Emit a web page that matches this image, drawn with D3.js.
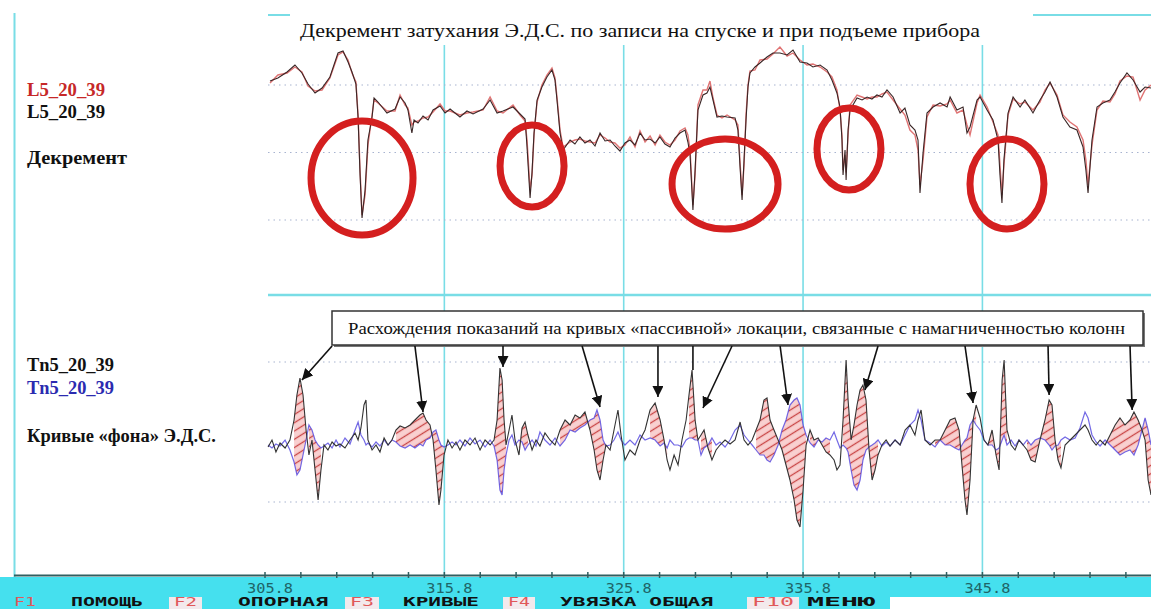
<!DOCTYPE html>
<html><head><meta charset="utf-8">
<script src="https://cdn.jsdelivr.net/npm/d3@7"></script>
<style>
html,body{margin:0;padding:0;background:#fff;}
svg{display:block;}
</style></head><body>
<svg id="chart" width="1151" height="609"></svg>
<script>
// ---- decrement of EMF damping: record on descent (black) and ascent (red) ----
const depthTop = [
306.08,306.52,307.03,307.47,307.86,308.20,308.59,308.98,309.42,309.87,
310.15,310.43,310.65,310.87,310.99,311.10,311.21,311.38,311.54,311.77,
311.88,312.10,312.60,313.05,313.33,313.61,313.77,313.99,314.11,314.33,
314.61,314.89,315.17,315.56,315.84,316.12,316.67,317.06,317.40,317.96,
318.35,318.74,319.07,319.63,320.02,320.30,320.41,320.58,320.69,320.80,
320.97,321.24,321.52,321.80,321.97,322.08,322.25,322.42,322.81,323.08,
323.36,323.64,323.92,324.20,324.48,324.76,325.04,325.31,325.59,325.87,
326.15,326.43,326.71,326.99,327.27,327.55,327.82,328.10,328.38,328.66,
328.94,329.22,329.38,329.50,329.66,329.78,329.94,330.22,330.44,330.61,
330.78,331.00,331.28,331.56,332.01,332.17,332.28,332.40,332.51,332.62,
332.73,332.84,333.12,333.40,333.79,334.12,334.51,334.91,335.24,335.63,
336.02,336.35,336.75,337.14,337.41,337.69,337.86,337.97,338.03,338.14,
338.20,338.31,338.42,338.81,339.09,339.37,339.64,339.92,340.20,340.48,
340.82,341.21,341.48,341.76,342.04,342.21,342.32,342.49,342.71,343.05,
343.44,343.83,344.00,344.38,344.72,344.94,345.11,345.50,345.67,346.06,
346.39,346.67,346.78,346.89,347.00,347.23,347.51,347.90,348.17,348.62,
349.01,349.29,349.57,349.96,350.29,350.68,351.07,351.41,351.57,351.69,
351.91,352.19,352.52,352.91,353.19,353.47,353.86,354.20,354.59,354.87,
355.20];
const decrDown = [
0.836,0.848,0.872,0.900,0.868,0.824,0.788,0.808,0.852,0.948,
0.956,0.912,0.872,0.824,0.688,0.460,0.288,0.400,0.600,0.692,
0.768,0.752,0.708,0.724,0.772,0.748,0.720,0.628,0.680,0.668,
0.696,0.680,0.720,0.736,0.708,0.724,0.692,0.716,0.704,0.724,
0.760,0.708,0.716,0.732,0.704,0.684,0.572,0.368,0.472,0.628,
0.760,0.812,0.852,0.880,0.840,0.760,0.628,0.560,0.600,0.584,
0.612,0.588,0.600,0.576,0.628,0.596,0.600,0.576,0.556,0.588,
0.600,0.580,0.628,0.600,0.604,0.588,0.612,0.584,0.572,0.608,
0.628,0.640,0.592,0.540,0.320,0.480,0.720,0.780,0.788,0.812,
0.760,0.692,0.696,0.692,0.688,0.640,0.500,0.360,0.520,0.680,
0.812,0.868,0.892,0.908,0.932,0.948,0.948,0.940,0.960,0.912,
0.908,0.892,0.900,0.880,0.840,0.788,0.732,0.600,0.460,0.560,
0.440,0.640,0.720,0.768,0.760,0.772,0.764,0.780,0.772,0.800,
0.772,0.708,0.728,0.660,0.640,0.600,0.388,0.548,0.708,0.732,
0.748,0.732,0.772,0.720,0.732,0.628,0.652,0.760,0.772,0.720,
0.680,0.600,0.460,0.348,0.520,0.708,0.772,0.732,0.760,0.708,
0.760,0.792,0.832,0.772,0.692,0.652,0.640,0.572,0.480,0.388,
0.600,0.732,0.748,0.760,0.792,0.828,0.868,0.840,0.792,0.812,
0.808];
const decrUp = [
0.828,0.860,0.868,0.892,0.872,0.816,0.796,0.800,0.848,0.940,
0.952,0.920,0.868,0.832,0.700,0.480,0.300,0.380,0.580,0.700,
0.760,0.748,0.716,0.716,0.780,0.740,0.728,0.660,0.672,0.676,
0.688,0.692,0.712,0.744,0.716,0.716,0.700,0.708,0.712,0.720,
0.772,0.716,0.708,0.740,0.700,0.676,0.600,0.400,0.460,0.620,
0.752,0.820,0.860,0.888,0.848,0.772,0.640,0.572,0.592,0.600,
0.604,0.596,0.592,0.588,0.620,0.608,0.592,0.588,0.568,0.580,
0.612,0.572,0.636,0.592,0.616,0.580,0.620,0.592,0.580,0.600,
0.636,0.648,0.620,0.560,0.340,0.460,0.740,0.800,0.800,0.836,
0.768,0.700,0.688,0.700,0.680,0.660,0.520,0.380,0.500,0.700,
0.820,0.876,0.880,0.920,0.924,0.944,0.972,0.936,0.948,0.920,
0.900,0.904,0.892,0.872,0.852,0.800,0.720,0.620,0.480,0.540,
0.470,0.620,0.740,0.780,0.772,0.764,0.772,0.772,0.784,0.792,
0.760,0.724,0.700,0.640,0.620,0.560,0.420,0.520,0.692,0.740,
0.736,0.744,0.760,0.708,0.720,0.660,0.620,0.748,0.780,0.732,
0.672,0.620,0.500,0.380,0.500,0.700,0.764,0.744,0.752,0.720,
0.752,0.800,0.828,0.780,0.700,0.672,0.652,0.600,0.520,0.420,
0.580,0.720,0.756,0.752,0.784,0.836,0.856,0.852,0.760,0.800,
0.820];

// ---- background EMF curves (mV): black and blue runs ----
const depthBot = [
305.97,306.19,306.41,306.64,306.92,307.19,307.42,307.58,307.75,307.92,
308.09,308.25,308.42,308.59,308.76,308.92,309.09,309.31,309.54,309.76,
309.98,310.26,310.54,310.82,310.99,311.15,311.32,311.43,311.54,311.77,
311.99,312.21,312.44,312.66,312.88,313.10,313.33,313.61,313.89,314.16,
314.44,314.61,314.78,315.00,315.17,315.33,315.50,315.61,315.78,316.00,
316.23,316.45,316.67,316.95,317.23,317.51,317.79,318.07,318.35,318.57,
318.74,318.90,319.02,319.13,319.24,319.41,319.57,319.74,319.96,320.13,
320.30,320.46,320.69,320.91,321.13,321.41,321.69,321.97,322.25,322.53,
322.81,323.09,323.36,323.64,323.92,324.15,324.31,324.48,324.65,324.81,
325.04,325.26,325.48,325.65,325.87,326.15,326.43,326.71,326.99,327.27,
327.55,327.83,328.05,328.22,328.38,328.61,328.83,329.05,329.28,329.44,
329.61,329.78,329.94,330.11,330.28,330.50,330.72,330.95,331.17,331.45,
331.73,332.01,332.29,332.51,332.73,332.96,333.18,333.40,333.62,333.79,
333.96,334.18,334.41,334.63,334.85,335.07,335.30,335.46,335.63,335.80,
335.97,336.19,336.41,336.64,336.86,337.08,337.30,337.53,337.69,337.86,
338.03,338.20,338.31,338.48,338.64,338.81,338.98,339.14,339.31,339.48,
339.65,339.81,339.98,340.20,340.43,340.65,340.93,341.21,341.49,341.76,
342.04,342.21,342.38,342.60,342.88,343.16,343.44,343.72,344.00,344.27,
344.50,344.66,344.83,344.94,345.11,345.28,345.45,345.67,345.89,346.11,
346.34,346.56,346.73,346.90,347.01,347.17,347.40,347.62,347.84,348.07,
348.29,348.51,348.74,349.01,349.29,349.52,349.68,349.85,350.02,350.18,
350.41,350.69,350.97,351.24,351.52,351.69,351.91,352.14,352.36,352.64,
352.92,353.20,353.47,353.75,354.03,354.25,354.48,354.70,354.87,355.04,
355.20];
const emfDown = [
-15,-8,-20,-11,-16,-8,12,37,54,37,
2,-23,-8,-38,-68,-38,-13,-18,-10,-14,
-12,-16,-8,-1,-8,4,27,32,-8,-18,
-13,-20,-6,-13,-8,2,6,4,7,12,
17,19,12,7,-8,-38,-73,-58,-23,-8,
-16,-10,-18,-8,-13,-6,-18,-8,-13,-8,
12,64,52,12,-13,2,17,-8,-23,4,
10,-3,-18,-8,-14,-1,-8,-13,2,12,
7,17,14,20,2,-18,-38,-48,-28,-13,
-18,2,22,-3,-28,-18,-23,-8,2,22,
29,12,-8,-28,-38,-23,-33,-8,12,37,
62,12,-8,-3,2,-16,-28,-18,-13,-8,
-12,-8,10,-8,-13,-8,2,12,32,34,
12,2,-8,-18,-33,-48,-68,-88,-95,-58,
-13,2,-8,-6,-13,-20,-23,-28,-38,-33,
12,72,32,-8,7,27,42,47,32,-18,
-48,-38,-23,-13,-8,-14,-8,-13,2,7,
-3,12,22,-8,-13,-8,-8,2,12,14,
2,-33,-68,-83,-48,12,27,14,-8,-13,
2,-23,-38,52,72,2,-13,-18,-8,-13,
-18,-28,-30,-8,12,32,27,-8,-28,-36,
-13,-8,-3,2,7,2,-8,-13,-8,-13,
-3,7,14,7,12,20,12,2,-8,-48,
-63];
const emfUp = [
-13,-16,-12,-14,-8,-18,-30,-43,-38,-23,
-8,7,2,-8,-13,-16,-14,-11,-16,-8,
-15,-6,-12,2,10,-3,-8,-13,-11,-15,
-10,-14,-8,-13,-8,-10,-14,-16,-13,-16,
-12,-14,-8,-6,0,2,-8,-13,-15,-13,
-10,-13,-8,-14,-6,-12,-8,-15,-8,-14,
-28,-58,-63,-38,-23,-8,-3,-13,-8,-10,
-18,-13,-8,-14,0,-8,-13,-6,-14,-8,
2,0,4,7,12,14,22,12,-8,-14,
-13,-8,0,-8,-13,-8,-13,-3,-8,-6,
-8,-14,-11,-16,-8,-13,-13,-15,-8,-6,
-6,-8,-8,-23,-16,-13,-6,-13,-10,-15,
-8,2,7,-3,-8,-13,-18,-23,-23,-28,
-30,-23,-13,2,12,27,32,34,27,7,
-3,-11,-15,-8,-10,-6,-8,0,-8,-16,
-13,-16,-20,-38,-53,-58,-48,-28,-18,-15,
-13,-11,-8,-14,-10,-14,-8,-13,-3,7,
12,22,12,-8,-11,-15,-8,-13,-13,-16,
-18,-13,-8,-6,7,12,7,2,-8,-13,
-13,-18,-16,-8,-3,-13,-8,-14,-8,-13,
-8,-13,-8,-6,-8,-13,-18,-14,-13,-8,
-5,-8,-6,4,20,14,-3,-10,-14,-8,
-13,-18,-23,-20,-18,-23,-13,2,14,2,
-13];

// depth intervals where the two runs disagree (hatched)
const divergeFrom = [307.31,308.25,313.10,318.57,319.96,322.25,327.16,329.33,330.11,333.01,336.19,338.03,343.05,346.06,348.29,352.53];
const divergeTo   = [308.20,309.04,315.89,319.35,320.58,324.81,328.27,329.94,330.84,336.08,337.41,339.98,345.50,347.34,350.24,355.20];

// circled decrement anomalies
const anomalyDepth = [311.21,320.69,331.45,338.36,347.17];
const anomalyDecr  = [0.448,0.496,0.424,0.564,0.424];

// callout leaders: start depth on the box, target depth / EMF
const arrowFrom  = [309.54,314.16,319.07,323.48,327.71,329.66,331.84,334.52,339.98,344.83,349.46,354.03];
const arrowDepth = [307.86,314.61,319.07,324.48,327.71,329.66,330.22,334.96,339.25,345.28,349.52,354.15];
const arrowEmf   = [52,20,65,25,35,62,24,27,42,29,37,22];
const arrowHead  = [1,1,1,1,1,0,1,1,1,1,1,1];

const depthTicks = [305.8,315.8,325.8,335.8,345.8];
const topGrid = [0.28,0.55,0.82];
const botGrid = [-70,70];

const menuKeys   = ["F1","F2","F3","F4","F10"];
const menuLabels = ["ПОМОЩЬ","ОПОРНАЯ","КРИВЫЕ","УВЯЗКА ОБЩАЯ","МЕНЮ"];

const titleText = "Декремент затухания Э.Д.С. по записи на спуске и при подъеме прибора";
const calloutText = "Расхождения показаний на кривых «пассивной» локации, связанные с намагниченностью колонн";

// ---------------- drawing ----------------
const W = 1151, H = 609;
const svg = d3.select("#chart");
const serif = "'Liberation Serif','Times New Roman',serif";
const mono = "'DejaVu Sans Mono',monospace";
const CYAN = "#45e0ee", GRID = "#79dde6";

const x = d3.scaleLinear().domain([305.8, 355.2]).range([265, 1151]);
const yTop = d3.scaleLinear().domain([0, 1]).range([290, 40]);
const yBot = d3.scaleLinear().domain([-140, 140]).range([572, 292]);

svg.append("rect").attr("width", W).attr("height", H).attr("fill", "#fff");

const defs = svg.append("defs");
defs.append("clipPath").attr("id", "clipTop").append("rect")
  .attr("x", 265).attr("y", 40).attr("width", W - 265).attr("height", 252);
defs.append("clipPath").attr("id", "clipBot").append("rect")
  .attr("x", 265).attr("y", 298).attr("width", W - 265).attr("height", 275);
const pat = defs.append("pattern").attr("id", "hatch")
  .attr("patternUnits", "userSpaceOnUse").attr("width", 8).attr("height", 7)
  .attr("patternTransform", "rotate(-32)");
pat.append("rect").attr("width", 8).attr("height", 7).attr("fill", "#f9d0d0");
pat.append("line").attr("x1", 0).attr("x2", 8).attr("y1", 3.5).attr("y2", 3.5)
  .attr("stroke", "#c94545").attr("stroke-width", 1.3);
defs.append("marker").attr("id", "arrowhead").attr("viewBox", "0 0 10 10")
  .attr("refX", 10).attr("refY", 5).attr("markerWidth", 11).attr("markerHeight", 11)
  .attr("markerUnits", "userSpaceOnUse").attr("orient", "auto")
  .append("path").attr("d", "M0,0 L10,5 L0,10 Z").attr("fill", "#111");

// frame lines
svg.append("line").attr("x1", 14.5).attr("x2", 14.5).attr("y1", 13).attr("y2", 577)
  .attr("stroke", GRID).attr("stroke-width", 2);
svg.append("line").attr("x1", 268).attr("x2", W).attr("y1", 15).attr("y2", 15)
  .attr("stroke", GRID).attr("stroke-width", 2);
svg.append("line").attr("x1", 268).attr("x2", W).attr("y1", 295).attr("y2", 295)
  .attr("stroke", GRID).attr("stroke-width", 2.5);

// vertical depth grid
svg.append("g").selectAll("line").data(depthTicks.slice(1)).join("line")
  .attr("x1", d => x(d)).attr("x2", d => x(d)).attr("y1", 45).attr("y2", 575)
  .attr("stroke", GRID).attr("stroke-width", 1.6);

// dotted level grid
svg.append("g").selectAll("line").data(topGrid).join("line")
  .attr("x1", 268).attr("x2", W).attr("y1", d => yTop(d)).attr("y2", d => yTop(d))
  .attr("stroke", "#a8b3d0").attr("stroke-width", 1.2).attr("stroke-dasharray", "1.5,4");
svg.append("g").selectAll("line").data(botGrid).join("line")
  .attr("x1", 268).attr("x2", W).attr("y1", d => yBot(d)).attr("y2", d => yBot(d))
  .attr("stroke", "#a8b3d0").attr("stroke-width", 1.2).attr("stroke-dasharray", "1.5,4");

// top panel curves
const topG = svg.append("g").attr("clip-path", "url(#clipTop)");
const lineTop = d3.line().x(d => x(d[0])).y(d => yTop(d[1]));
topG.append("path").datum(depthTop.map((d, i) => [d, decrUp[i]]))
  .attr("d", lineTop).attr("fill", "none").attr("stroke", "#e07474").attr("stroke-width", 1.4);
topG.append("path").datum(depthTop.map((d, i) => [d, decrDown[i]]))
  .attr("d", lineTop).attr("fill", "none").attr("stroke", "#3a2626").attr("stroke-width", 1.1);

// circled anomalies
const rxs = [51, 32, 53, 32, 37], rys = [57, 41, 45, 41, 45];
svg.append("g").selectAll("ellipse").data(anomalyDepth).join("ellipse")
  .attr("cx", d => x(d)).attr("cy", (d, i) => yTop(anomalyDecr[i]))
  .attr("rx", (d, i) => rxs[i]).attr("ry", (d, i) => rys[i])
  .attr("fill", "none").attr("stroke", "#d41f1f").attr("stroke-width", 7);

// bottom panel: hatched divergence, then curves
const botG = svg.append("g").attr("clip-path", "url(#clipBot)");
const botPts = depthBot.map((d, i) => ({ d, a: emfDown[i], b: emfUp[i] }));
const area = d3.area().x(p => x(p.d)).y0(p => yBot(p.b)).y1(p => yBot(p.a));
divergeFrom.forEach((from, k) => {
  const seg = botPts.filter(p => p.d >= from - 0.001 && p.d <= divergeTo[k] + 0.001);
  if (seg.length > 1) {
    botG.append("path").datum(seg).attr("d", area)
      .attr("fill", "url(#hatch)").attr("stroke", "none");
  }
});
const lineBot = key => d3.line().x(p => x(p.d)).y(p => yBot(p[key]));
botG.append("path").datum(botPts).attr("d", lineBot("b"))
  .attr("fill", "none").attr("stroke", "#5b4fe0").attr("stroke-width", 1.2).attr("stroke-opacity", 0.85);
botG.append("path").datum(botPts).attr("d", lineBot("a"))
  .attr("fill", "none").attr("stroke", "#333").attr("stroke-width", 1.1);

// callout box
const boxX0 = 332, boxX1 = 1143, boxY0 = 311, boxY1 = 345;
svg.append("rect").attr("x", boxX0 + 2).attr("y", boxY0 + 2)
  .attr("width", boxX1 - boxX0).attr("height", boxY1 - boxY0).attr("fill", "#777");
svg.append("rect").attr("x", boxX0).attr("y", boxY0)
  .attr("width", boxX1 - boxX0).attr("height", boxY1 - boxY0)
  .attr("fill", "#fff").attr("stroke", "#333").attr("stroke-width", 1.5);
svg.append("text").attr("x", 348).attr("y", 334)
  .attr("font-family", serif).attr("font-size", 17).attr("fill", "#111")
  .attr("textLength", 777).attr("lengthAdjust", "spacingAndGlyphs")
  .text(calloutText);

// leaders with arrowheads
svg.append("g").selectAll("line").data(arrowFrom).join("line")
  .attr("x1", d => x(d)).attr("y1", boxY1 + 1)
  .attr("x2", (d, i) => x(arrowDepth[i])).attr("y2", (d, i) => yBot(arrowEmf[i]))
  .attr("stroke", "#111").attr("stroke-width", 1.6)
  .attr("marker-end", (d, i) => arrowHead[i] ? "url(#arrowhead)" : null);

// title
svg.append("rect").attr("x", 290).attr("y", 4).attr("width", 743).attr("height", 24).attr("fill", "#fff");
svg.append("text").attr("x", 300).attr("y", 37)
  .attr("font-family", serif).attr("font-size", 19).attr("fill", "#111")
  .attr("textLength", 680).attr("lengthAdjust", "spacingAndGlyphs")
  .text(titleText);

// curve names
const names = [
  { t: "L5_20_39", y: 96, c: "#c62828", w: 78 },
  { t: "L5_20_39", y: 118, c: "#111", w: 78 },
  { t: "Декремент", y: 164, c: "#111", w: 100 },
  { t: "Tn5_20_39", y: 371, c: "#111", w: 87 },
  { t: "Tn5_20_39", y: 394, c: "#2b2bb0", w: 87 },
  { t: "Кривые «фона» Э.Д.С.", y: 442, c: "#111", w: 189 }
];
svg.append("g").selectAll("text").data(names).join("text")
  .attr("x", 27).attr("y", d => d.y).attr("fill", d => d.c)
  .attr("font-family", serif).attr("font-size", 18).attr("font-weight", "bold")
  .attr("textLength", d => d.w).attr("lengthAdjust", "spacingAndGlyphs")
  .text(d => d.t);

// depth axis
svg.append("rect").attr("x", 0).attr("y", 577).attr("width", W).attr("height", 20).attr("fill", CYAN);
svg.append("rect").attr("x", 0).attr("y", 597).attr("width", 890).attr("height", 12).attr("fill", CYAN);
svg.append("line").attr("x1", 14).attr("x2", W).attr("y1", 575.5).attr("y2", 575.5)
  .attr("stroke", "#2f5f60").attr("stroke-width", 2);
const minorTicks = d3.range(305.8, 355.2, 2);
svg.append("g").selectAll("line").data(minorTicks).join("line")
  .attr("x1", d => x(d)).attr("x2", d => x(d)).attr("y1", 572).attr("y2", 578)
  .attr("stroke", "#2f5f60").attr("stroke-width", 1.5);
svg.append("g").selectAll("text").data(depthTicks).join("text")
  .attr("x", d => x(d) + 5).attr("y", 593).attr("text-anchor", "middle")
  .attr("font-family", mono).attr("font-size", 14).attr("fill", "#1f6567")
  .attr("textLength", 46).attr("lengthAdjust", "spacingAndGlyphs")
  .text(d => d.toFixed(1));

// function-key menu
const keyX = [14, 174, 350, 508, 752], keyW = [22, 23, 24, 22, 42];
const labX = [71, 238, 403, 560, 807], labW = [72, 90, 76, 153, 68];
const menu = svg.append("g");
menuKeys.forEach((k, i) => {
  if (i > 0) {
    menu.append("rect").attr("x", keyX[i] - 5).attr("y", 597)
      .attr("width", keyW[i] + 10).attr("height", 12).attr("fill", "#f3e9ec");
  }
  menu.append("text").attr("x", keyX[i]).attr("y", 606)
    .attr("font-family", mono).attr("font-size", 12.5).attr("fill", "#e0585a")
    .attr("textLength", keyW[i]).attr("lengthAdjust", "spacingAndGlyphs").text(k);
  menu.append("text").attr("x", labX[i]).attr("y", 606)
    .attr("font-family", mono).attr("font-size", 12.5).attr("font-weight", "bold").attr("fill", "#111")
    .attr("textLength", labW[i]).attr("lengthAdjust", "spacingAndGlyphs").text(menuLabels[i]);
});
</script>
</body></html>
